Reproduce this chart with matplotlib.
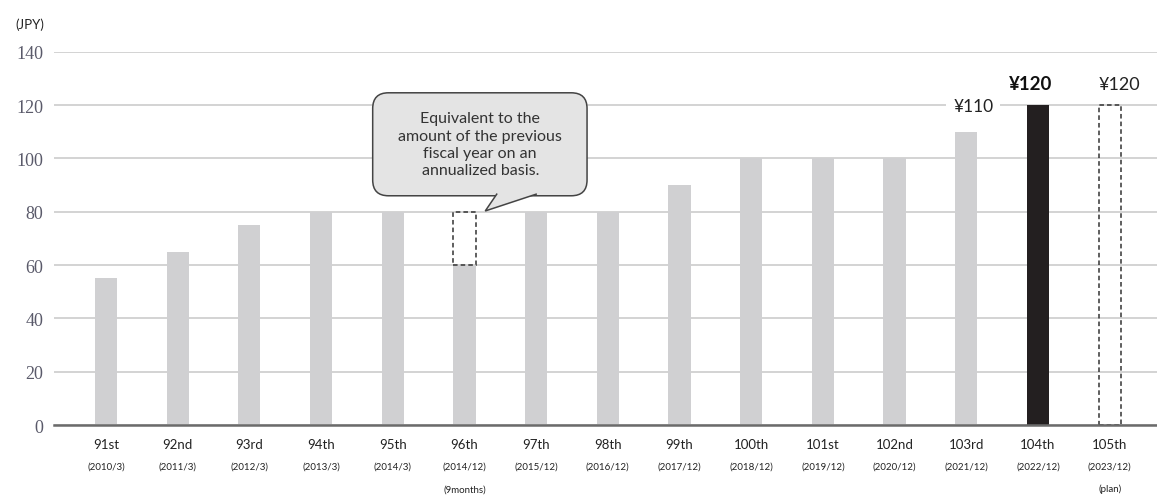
import matplotlib
matplotlib.use('Agg')
import matplotlib.pyplot as plt
import matplotlib.transforms as mtransforms
from matplotlib.patches import Rectangle, FancyBboxPatch, Polygon

# data
terms = ['91st', '92nd', '93rd', '94th', '95th', '96th', '97th', '98th',
         '99th', '100th', '101st', '102nd', '103rd', '104th', '105th']
periods = ['(2010/3)', '(2011/3)', '(2012/3)', '(2013/3)', '(2014/3)',
           '(2014/12)', '(2015/12)', '(2016/12)', '(2017/12)', '(2018/12)',
           '(2019/12)', '(2020/12)', '(2021/12)', '(2022/12)', '(2023/12)']
notes = ['', '', '', '', '', '(9months)', '', '', '', '', '', '', '', '', '(plan)']
dividends = [55, 65, 75, 80, 80, 60, 80, 80, 90, 100, 100, 100, 110, 120, 0]
annualized_96 = 80
plan_105 = 120

plt.rcParams['font.family'] = ['Lato', 'DejaVu Sans']

fig = plt.figure(figsize=(11.57, 5.02), dpi=100)
ax = fig.add_axes([0.047, 0.151, 0.953, 0.744])

x = list(range(len(terms)))
colors = ['#d0d0d2'] * len(terms)
colors[13] = '#231f20'
bw = 0.31
ax.bar(x, dividends, width=bw, color=colors, zorder=2)

# dashed boxes: annualized 96th and planned 105th
ax.add_patch(Rectangle((5 - bw / 2, dividends[5]), bw, annualized_96 - dividends[5],
                       fill=False, ls=(0, (3, 2)), lw=1.1, ec='#333333', zorder=3))
ax.add_patch(Rectangle((14 - bw / 2, 0), bw, plan_105,
                       fill=False, ls=(0, (3, 2)), lw=1.1, ec='#333333', zorder=3))

ax.set_xlim(-0.72, 14.66)
ax.set_ylim(0, 140)
ax.set_yticks(range(0, 141, 20))
ax.set_yticklabels([str(v) for v in range(0, 141, 20)],
                   family=['Liberation Serif'], fontsize=13, color='#5a5a6a')
ax.tick_params(axis='y', length=0, pad=8)
ax.tick_params(axis='x', length=0, labelbottom=False)
ax.grid(axis='y', color='#cccccc', lw=1.2, zorder=0)
for s in ['top', 'right', 'left']:
    ax.spines[s].set_visible(False)
ax.spines['bottom'].set_color('#6b6b6b')
ax.spines['bottom'].set_linewidth(1.8)
ax.spines['bottom'].set_zorder(4)

trans = mtransforms.blended_transform_factory(ax.transData, ax.transAxes)
for i in x:
    ax.text(i, -0.05, terms[i], transform=trans, ha='center', va='center',
            fontsize=9.5, color='#222222')
    ax.text(i, -0.11, periods[i], transform=trans, ha='center', va='center',
            fontsize=7, color='#222222')
    if notes[i]:
        ax.text(i, -0.17, notes[i], transform=trans, ha='center', va='center',
                fontsize=7, color='#222222')

# value labels
ax.text(12.1, dividends[12] + 9.5, '¥110', ha='center', va='center', fontsize=12.5,
        color='#222222', bbox=dict(fc='white', ec='none', pad=5), zorder=5)
ax.text(12.9, dividends[13] + 8, '¥120', ha='center', va='center', fontsize=13.5,
        fontweight='bold', color='#111111')
ax.text(14.13, plan_105 + 8, '¥120', ha='center', va='center', fontsize=13,
        color='#222222')

fig.text(0.0255, 0.95, '(JPY)', ha='center', va='center', fontsize=9.5, color='#222222')

# speech-bubble callout
aspect = 71.7 / 2.664
bubble = FancyBboxPatch((3.72, 86.0), 6.71 - 3.72, 124.6 - 86.0,
                        boxstyle='round,pad=0,rounding_size=0.22',
                        mutation_aspect=aspect, fc='#e4e4e4', ec='#444444',
                        lw=1.1, zorder=6)
ax.add_patch(bubble)
tail = [(5.45, 86.6), (5.29, 80.3), (6.0, 86.6)]
ax.add_patch(Polygon(tail, closed=True, fc='#e4e4e4', ec='none', zorder=7))
ax.plot([p[0] for p in tail], [p[1] for p in tail], color='#444444', lw=1.1,
        zorder=8, solid_joinstyle='miter')
ax.text(5.22, 105.3, 'Equivalent to the\namount of the previous\nfiscal year on an\nannualized basis.',
        ha='center', va='center', fontsize=11.5, color='#333333', linespacing=1.3,
        zorder=9)

fig.savefig('out.png', dpi=100)
